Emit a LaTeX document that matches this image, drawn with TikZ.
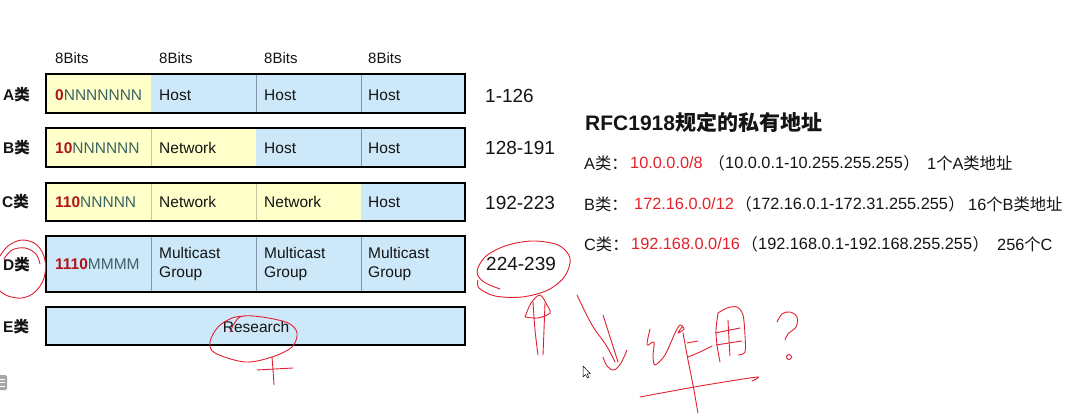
\documentclass[tikz,border=0pt]{standalone}
\usepackage{fontspec}
\setmainfont{Liberation Sans}
\newfontfamily\cjk{Noto Sans CJK SC}
\definecolor{cellY}{HTML}{FFFFC9}
\definecolor{cellB}{HTML}{CCE8F9}
\definecolor{divc}{HTML}{8494A6}
\definecolor{divy}{HTML}{C8C8A0}
\definecolor{bitred}{HTML}{B0141A}
\definecolor{nteal}{HTML}{3B6366}
\definecolor{ipred}{HTML}{E3222B}
\definecolor{pen}{HTML}{E02030}
\definecolor{txt}{HTML}{141414}
\begin{document}
\begin{tikzpicture}[x=1pt,y=-1pt,
  celltext/.style={anchor=west,inner sep=0pt,text=txt,font=\fontsize{15.5}{18.5}\selectfont},
  bits/.style={anchor=west,inner sep=0pt,text=txt,font=\fontsize{15}{18}\selectfont},
  rowlab/.style={anchor=west,inner sep=0pt,text=txt,font=\fontsize{15.5}{18}\selectfont\bfseries},
  rangelab/.style={anchor=west,inner sep=0pt,text=txt,font=\fontsize{19}{22}\selectfont},
  rtext/.style={anchor=west,inner sep=0pt,text=txt,font=\fontsize{16.3}{20}\selectfont},
  frame/.style={draw=black,line width=2.6pt},
  divb/.style={draw=divc,line width=0.8pt},
  divyl/.style={draw=divy,line width=0.8pt},
  penline/.style={draw=pen,line width=0.9pt,line cap=round,line join=round}]
\useasboundingbox (0,0) rectangle (1072,414);
\fill[white] (0,0) rectangle (1072,414);

% 8Bits headings
\node[bits] (b1) at (55,58) {8Bits};
\node[bits] (b2) at (159,58) {8Bits};
\node[bits] (b3) at (264,58) {8Bits};
\node[bits] (b4) at (368,58) {8Bits};

% Row A
\fill[cellY] (46,74) rectangle (151,113);
\fill[cellB] (151,74) rectangle (465,113);
\draw[divb] (256,74)--(256,113) (361,74)--(361,113);
\draw[frame] (46,74) rectangle (465,113);
\node[celltext] (a1) at (55,95) {\textcolor{bitred}{\bfseries 0}\textcolor{nteal}{NNNNNNN}};
\node[celltext] (a2) at (159,95) {Host};
\node[celltext] (a3) at (264,95) {Host};
\node[celltext] (a4) at (368,95) {Host};

% Row B
\fill[cellY] (46,128) rectangle (256,167);
\fill[cellB] (256,128) rectangle (465,167);
\draw[divyl] (151,128)--(151,167);
\draw[divb] (361,128)--(361,167);
\draw[frame] (46,128) rectangle (465,167);
\node[celltext] (bb1) at (55,148) {\textcolor{bitred}{\bfseries 10}\textcolor{nteal}{NNNNNN}};
\node[celltext] (bb2) at (159,148) {Network};
\node[celltext] (bb3) at (264,148) {Host};
\node[celltext] (bb4) at (368,148) {Host};

% Row C
\fill[cellY] (46,183) rectangle (361,221);
\fill[cellB] (361,183) rectangle (465,221);
\draw[divyl] (151,183)--(151,221) (256,183)--(256,221);
\draw[frame] (46,183) rectangle (465,221);
\node[celltext] (c1) at (55,202) {\textcolor{bitred}{\bfseries 110}\textcolor{nteal}{NNNNN}};
\node[celltext] (c2) at (159,202) {Network};
\node[celltext] (c3) at (264,202) {Network};
\node[celltext] (c4) at (368,202) {Host};

% Row D
\fill[cellB] (46,236) rectangle (465,292);
\draw[divb] (151,236)--(151,292) (256,236)--(256,292) (361,236)--(361,292);
\draw[frame] (46,236) rectangle (465,292);
\node[celltext] (d1) at (55,264) {\textcolor{bitred}{\bfseries 1110}\textcolor{nteal}{MMMM}};
\node[celltext,align=left] (d2) at (159,264) {Multicast\\Group};
\node[celltext,align=left] (d3) at (264,264) {Multicast\\Group};
\node[celltext,align=left] (d4) at (368,264) {Multicast\\Group};

% Row E
\fill[cellB] (46,307) rectangle (465,345);
\draw[frame] (46,307) rectangle (465,345);
\node[celltext,anchor=center] (e1) at (256,327) {Research};

% Row labels
\node[rowlab] (la) at (3,95) {A{\cjk 类}};
\node[rowlab] (lb) at (3,148) {B{\cjk 类}};
\node[rowlab] (lc) at (2,202) {C{\cjk 类}};
\node[rowlab] (ld) at (3,265) {D{\cjk 类}};
\node[rowlab] (le) at (3,327) {E{\cjk 类}};

% Ranges
\node[rangelab] (ra) at (485,96) {1-126};
\node[rangelab] (rb) at (485,148) {128-191};
\node[rangelab] (rc) at (485,203) {192-223};
\node[rangelab] (rd) at (486,264) {224-239};

% Right text
\node[anchor=west,inner sep=0pt,text=txt] (title) at (585,122)
  {{\fontsize{21}{24}\selectfont\bfseries RFC1918}{\cjk\fontsize{21}{24}\selectfont\bfseries 规定的私有地址}};

\node[rtext] (pa0) at (584,163) {A{\cjk 类：}};
\node[rtext,text=ipred] (pa1) at (630,163) {10.0.0.0/8};
\node[rtext] (pa2) at (725,163) {10.0.0.1-10.255.255.255};
\node[rtext,anchor=east] (pa2l) at (pa2.west) {\cjk （};
\node[rtext] (pa2r) at (pa2.east) {\cjk ）};
\node[rtext] (pa3) at (927,163) {1{\cjk 个}A{\cjk 类地址}};

\node[rtext] (pb0) at (584,204) {B{\cjk 类：}};
\node[rtext,text=ipred] (pb1) at (634,204) {172.16.0.0/12};
\node[rtext] (pb2) at (752,204) {172.16.0.1-172.31.255.255};
\node[rtext,anchor=east] (pb2l) at (pb2.west) {\cjk （};
\node[rtext] (pb2r) at (pb2.east) {\cjk ）};
\node[rtext] (pb3) at (968,204) {16{\cjk 个}B{\cjk 类地址}};

\node[rtext] (pc0) at (584,244) {C{\cjk 类：}};
\node[rtext,text=ipred] (pc1) at (631,244) {192.168.0.0/16};
\node[rtext] (pc2) at (758,244) {192.168.0.1-192.168.255.255};
\node[rtext,anchor=east] (pc2l) at (pc2.west) {\cjk （};
\node[rtext] (pc2r) at (pc2.east) {\cjk ）};
\node[rtext] (pc3) at (997,244) {256{\cjk 个}C};

% small grey icon at left edge
\fill[gray!70,rounded corners=1.5pt] (-3,375) rectangle (7,390);
\draw[white,line width=0.6pt] (0,379)--(5,379) (0,382.5)--(5,382.5) (0,386)--(5,386);

% mouse cursor
\draw[black,fill=white,line width=0.5pt,line join=round] (583,366)--(583,377)--(585.5,374.5)--(587.5,378)--(589,377.3)--(587.2,373.8)--(590.5,373.8)--cycle;

% red hand annotations
% D circle
\draw[penline] plot[smooth,tension=0.6] coordinates {(0,256) (8,246) (22,240) (37,245) (45,260) (44,278) (35,292) (22,298) (8,296) (0,291)};
\draw[penline] plot[smooth,tension=0.6] coordinates {(4,259) (12,250) (25,248) (36,254) (40,264)};
% 224-239 ellipse
\draw[penline] plot[smooth,tension=0.55] coordinates {(500,289) (484,282) (477,272) (485,257) (505,246) (532,241) (558,245) (570,258) (565,276) (548,290) (522,297) (495,296) (479,288) (478,280)};
% up arrow
\draw[penline] plot[smooth,tension=0.5] coordinates {(538,355) (535,330) (533,302)};
\draw[penline] plot[smooth,tension=0.5] coordinates {(543,355) (544,330) (545,303)};
\draw[penline] plot[smooth,tension=0.5] coordinates {(525,317) (531,303) (540,295) (547,305) (550,313) (538,318) (525,317)};
% down arrow
\draw[penline] plot[smooth,tension=0.6] coordinates {(577,295) (592,325) (606,345) (615,362)};
\draw[penline] plot[smooth,tension=0.6] coordinates {(603,315) (611,340) (618,362)};
\draw[penline] plot[smooth,tension=0.6] coordinates {(603,357) (607,366) (614,370) (621,363) (627,350)};
% zuo
\draw[penline] plot[smooth,tension=0.5] coordinates {(650,329) (647,345) (654,342) (653,356) (655,365) (665,355) (675,333) (680,325) (684,329) (678,333) (682,327)};
\draw[penline] (687,343)--(698,341);
\draw[penline] plot[smooth,tension=0.5] coordinates {(688,357) (700,352) (712,346)};
\draw[penline] plot[smooth,tension=0.5] coordinates {(683,333) (688,360) (693,385) (698,413)};
% yong
\draw[penline] plot[smooth,tension=0.5] coordinates {(718,313) (716,330) (717,345) (720,362)};
\draw[penline] plot[smooth,tension=0.5] coordinates {(718,313) (727,308) (737,307) (743,315) (745,335) (745,352) (738,355)};
\draw[penline] plot[smooth,tension=0.5] coordinates {(728,320) (729,340) (730,356)};
\draw[penline] (715,333)--(740,328);
\draw[penline] (716,345)--(742,341);
% underline
\draw[penline] plot[smooth,tension=0.4] coordinates {(640,397) (700,386) (757,377) (752,381)};
% question mark
\draw[penline] plot[smooth,tension=0.6] coordinates {(777,322) (782,314) (790,312) (797,317) (796,327) (788,334) (785,340)};
\draw[penline] (789,357) circle (2.5);
% Research ellipse with cross
\draw[penline] plot[smooth,tension=0.55] coordinates {(230,332) (240,317) (262,317) (288,323) (297,333) (292,347) (272,357) (245,362) (215,353) (210,342) (218,327) (232,318) (245,316)};
\draw[penline] plot[smooth,tension=0.5] coordinates {(272,357) (273,370) (274,385)};
\draw[penline] (257,370)--(293,368);
\end{tikzpicture}
\end{document}
